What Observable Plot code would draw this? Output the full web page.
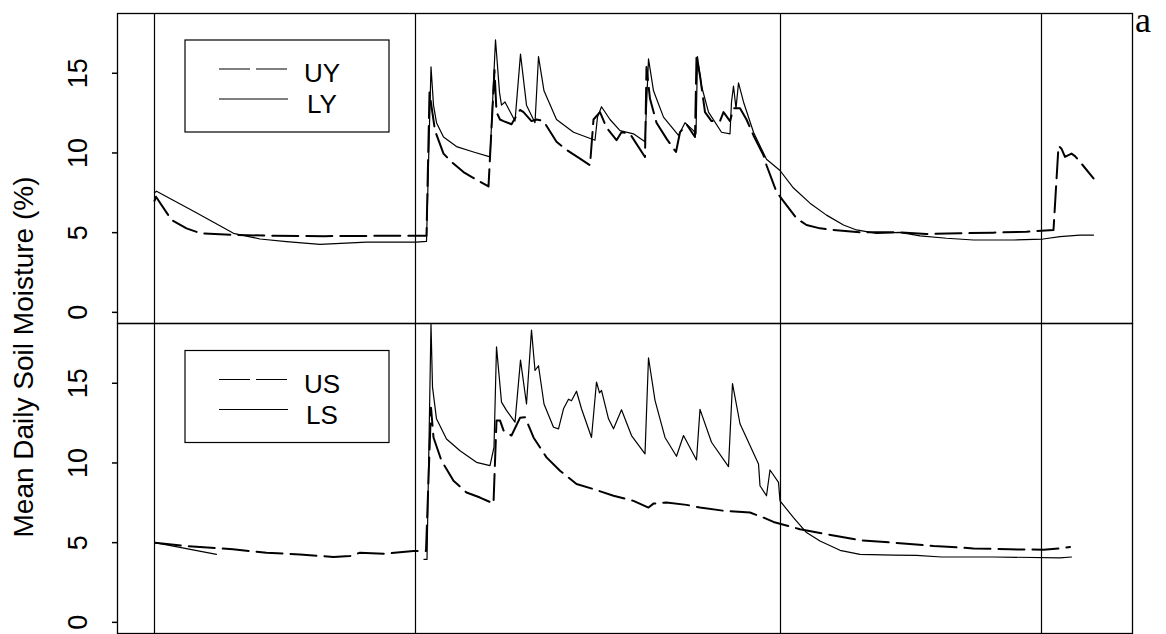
<!DOCTYPE html>
<html>
<head>
<meta charset="utf-8">
<script src="https://cdn.jsdelivr.net/npm/d3@7"></script>
<script src="https://cdn.jsdelivr.net/npm/@observablehq/plot@0.6"></script>
<style>
  body { margin: 0; background: #fff; }
  #chart { position: relative; width: 1166px; height: 634px; }
</style>
</head>
<body>
<div id="chart"></div>
<script>
// Panels: Y (upper) and S (lower); x is day number from the first boundary
const panels = ["Y", "S"];
const boundaryDays = [0, 261, 626, 887];
const yTicks = [0, 5, 10, 15];
const panelLabel = "a";
const yTitle = "Mean Daily Soil Moisture (%)";

// [day, mean daily soil moisture %]
const UY = [
  [0, 7.0], [1.5, 7.25], [17, 5.8], [32, 5.27], [46, 4.96], [79, 4.86], [120, 4.8], [170, 4.78],
  [220, 4.8], [272, 4.8], [275, 13.8], [280.5, 11.4], [289, 9.96], [297, 9.44], [309, 8.8],
  [317, 8.5], [334, 7.9], [340, 15.2], [342, 12.56], [345.5, 12.1], [349, 12.0], [357, 11.8],
  [365.5, 12.7], [369, 12.56], [377, 12.0], [382, 12.1], [389, 12.0], [402, 10.7], [412, 10.2],
  [425.5, 9.65], [435.5, 9.23], [439, 12.1], [445.5, 12.56], [452, 11.6], [462, 10.8],
  [467, 11.3], [475.5, 11.2], [490.5, 9.75], [492, 15.4], [495.5, 13.4], [502, 11.9],
  [512, 10.9], [521.5, 10.06], [525.5, 11.3], [532, 11.8], [540.5, 11.0], [542, 16.0],
  [545.5, 14.85], [550.5, 12.56], [557, 12.0], [565.5, 12.0], [569, 12.56], [575.5, 12.0],
  [579, 12.8], [585.5, 12.8], [592, 12.1], [599, 11.1], [609, 9.85], [612, 9.23], [622, 7.56],
  [627, 7.14], [642, 5.9], [652, 5.48], [665.5, 5.27], [678.5, 5.17], [705.5, 5.02],
  [745.5, 5.02], [772, 4.92], [805.5, 4.96], [839, 5.0], [872, 5.06], [899, 5.17],
  [904, 10.44], [907, 10.27], [910.5, 9.75], [917, 9.96], [920.5, 9.8], [927, 9.33], [939, 8.4]
];
const LY = [
  [0, 7.5], [2, 7.6], [40.5, 6.3], [79, 4.96], [105.5, 4.6], [132, 4.44], [165.5, 4.27],
  [212, 4.4], [262, 4.4], [272, 4.45], [276.5, 15.4], [279, 13.0], [282, 11.9], [289, 11.0],
  [302, 10.4], [319, 10.06], [335.5, 9.75], [341, 17.1], [345, 13.8], [347, 13.0], [350.5, 13.2],
  [360.5, 12.0], [366, 16.2], [372, 13.0], [380.5, 11.9], [384, 16.04], [389.5, 13.9],
  [402, 12.1], [419, 11.3], [440.5, 10.8], [443, 12.25], [447, 12.9], [455.5, 12.1],
  [465.5, 11.4], [479, 11.2], [490.5, 10.7], [494, 15.9], [499, 13.9], [509, 12.25],
  [524, 11.1], [530.5, 11.9], [539, 11.4], [541.5, 11.2], [543, 16.04], [547, 14.2],
  [554, 12.56], [567, 11.3], [575.5, 11.2], [577, 13.2], [579, 14.2], [581.5, 12.8],
  [584, 14.4], [589, 13.2], [599, 11.3], [612, 9.6], [625.5, 8.9], [639, 7.8], [655.5, 6.85],
  [672, 6.1], [689, 5.48], [702, 5.17], [722, 4.96], [745.5, 5.02], [765.5, 4.8], [792, 4.65],
  [819, 4.54], [859, 4.54], [888.5, 4.6], [905.5, 4.75], [925.5, 4.85], [939, 4.85]
];
const US = [
  [0.5, 5.0], [32, 4.79], [78.5, 4.58], [112, 4.37], [145.5, 4.26], [179, 4.1], [195.5, 4.16],
  [205.5, 4.37], [229, 4.3], [259, 4.47], [271.5, 4.47], [276.5, 13.47], [279, 11.6],
  [287, 10.14], [299, 8.88], [312, 8.15], [325.5, 7.83], [339, 7.45], [342, 12.67],
  [345.5, 12.67], [349, 12.04], [357, 11.72], [365.5, 12.83], [370.5, 12.87], [375.5, 12.14],
  [379, 11.6], [392, 10.35], [405.5, 9.51], [422, 8.68], [439, 8.36], [459, 7.94], [479, 7.62],
  [494, 7.2], [499, 7.45], [512, 7.52], [532, 7.37], [545.5, 7.2], [570.5, 6.99], [595.5, 6.89],
  [609, 6.57], [619, 6.3], [645.5, 5.84], [672, 5.53], [705.5, 5.15], [739, 5.0], [779, 4.79],
  [819, 4.64], [855.5, 4.58], [889, 4.56], [905.5, 4.64], [915.5, 4.73]
];
const LS = [
  [0.5, 5.0], [62, 4.26], [63, null], [269.5, 3.95], [272.5, 3.95], [276.5, 18.7], [278, 14.76],
  [282, 12.77], [292, 11.5], [305.5, 10.77], [322, 10.04], [335.5, 9.83], [339.5, 11.0],
  [342, 17.28], [347, 13.82], [352, 13.3], [360.5, 12.56], [366, 16.45], [372, 13.7],
  [377, 18.34], [380.5, 15.8], [384, 16.1], [389.5, 13.7], [399, 12.24], [404, 12.14],
  [409, 13.4], [414, 14.0], [417, 13.9], [422, 14.5], [427, 13.4], [437, 11.6], [442, 15.08],
  [445, 14.4], [447, 14.55], [454, 12.77], [459, 12.14], [467, 13.34], [477, 11.72],
  [490.5, 10.57], [494, 16.6], [500.5, 13.93], [510.5, 11.6], [522, 10.42], [529, 11.72],
  [542, 10.19], [545.5, 13.36], [557, 11.3], [574, 9.77], [578, 14.98], [585.5, 12.46],
  [595.5, 11.09], [604, 9.94], [605.5, 8.57], [612, 7.94], [615.5, 9.56], [624, 8.78],
  [625.5, 7.62], [639, 6.57], [652, 5.63], [665.5, 5.1], [685.5, 4.52], [705.5, 4.26],
  [739, 4.22], [762, 4.2], [787, 4.1], [839, 4.1], [905.5, 4.05], [917, 4.1]
];

// Which series are drawn dashed (upper) or solid (lower), and where
const legendGroups = [
  {panel: "Y", dashed: "UY", solid: "LY"},
  {panel: "S", dashed: "US", solid: "LS"}
];

const toRows = (pairs, series, panel) =>
  pairs.map(([day, value]) => ({day, value, series, panel}));

const dashedRows = [...toRows(UY, "UY", "Y"), ...toRows(US, "US", "S")];
const solidRows = [...toRows(LY, "LY", "Y"), ...toRows(LS, "LS", "S")];

const W = 1166, H = 634;
const margin = {left: 117, right: 34, top: 12, bottom: 1};

const chart = Plot.plot({
  width: W,
  height: H,
  marginLeft: margin.left,
  marginRight: margin.right,
  marginTop: margin.top,
  marginBottom: margin.bottom,
  style: {fontFamily: "'Liberation Sans', Arial, sans-serif", color: "#000", background: "#fff", overflow: "visible"},
  x: {domain: [-37, 978], axis: null},
  y: {domain: [-0.7, 18.75]},
  fy: {domain: panels, padding: 0, axis: null},
  marks: [
    Plot.ruleX(boundaryDays, {stroke: "#000", strokeWidth: 1.2}),
    Plot.line(solidRows, {x: "day", y: "value", z: "series", fy: "panel", stroke: "#000", strokeWidth: 1.2}),
    Plot.line(dashedRows, {x: "day", y: "value", z: "series", fy: "panel", stroke: "#000", strokeWidth: 2, strokeDasharray: "26,8"}),
    Plot.axisY({ticks: yTicks, tickSize: 5, tickPadding: 26, tickRotate: -90, fontSize: 27, label: null, strokeWidth: 1.5}),
    Plot.frame({stroke: "#000", strokeWidth: 1.3})
  ]
});

document.getElementById("chart").appendChild(chart);

// Annotations: legends, y title and panel letter
const svg = d3.select(chart);
const panelH = (H - margin.top - margin.bottom) / panels.length;
const fontSans = "'Liberation Sans', Arial, sans-serif";

legendGroups.forEach((g, i) => {
  const top = margin.top + i * panelH;
  const lg = svg.append("g").attr("transform", `translate(0,${top})`);
  lg.append("rect").attr("x", 185).attr("y", 28).attr("width", 204).attr("height", 92)
    .attr("fill", "#fff").attr("stroke", "#000").attr("stroke-width", 1.2);
  const entries = [
    {name: g.dashed, dash: "31,6", y: 57, ty: 70},
    {name: g.solid, dash: null, y: 87, ty: 101}
  ];
  entries.forEach(e => {
    lg.append("line").attr("x1", 219).attr("x2", 288).attr("y1", e.y).attr("y2", e.y)
      .attr("stroke", "#000").attr("stroke-width", 1.2)
      .attr("stroke-dasharray", e.dash);
    lg.append("text").attr("x", 322).attr("y", e.ty)
      .attr("font-family", fontSans).attr("font-size", 26).attr("fill", "#000")
      .text(e.name);
  });
});

svg.append("text")
  .attr("transform", "translate(33,357) rotate(-90)")
  .attr("text-anchor", "middle")
  .attr("font-family", fontSans).attr("font-size", 28).attr("fill", "#000")
  .text(yTitle);

svg.append("text")
  .attr("x", 1143).attr("y", 32)
  .attr("font-family", "'Liberation Serif', 'Times New Roman', serif")
  .attr("font-size", 36).attr("fill", "#000")
  .text(panelLabel);
</script>
</body>
</html>
